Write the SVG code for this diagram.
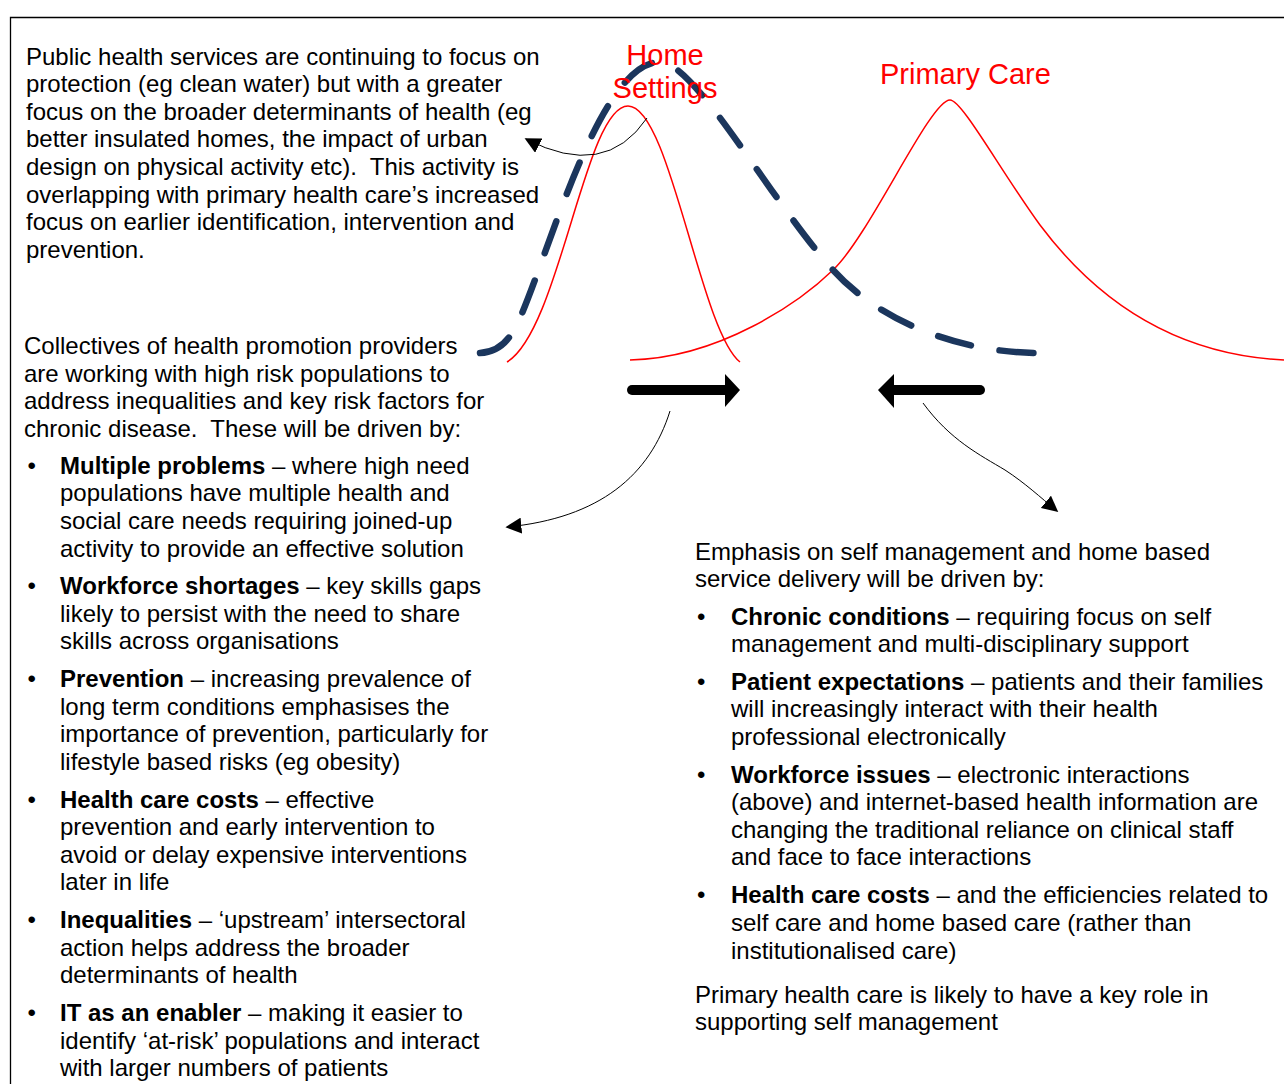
<svg xmlns="http://www.w3.org/2000/svg" width="1284" height="1084" viewBox="0 0 1284 1084">
<style>
text{font-family:"Liberation Sans",Arial,sans-serif;font-size:24px;fill:#000;white-space:pre}
.b{font-weight:bold}
.red{fill:#ff0000;font-size:29px}
.rc{fill:none;stroke:#ff0000;stroke-width:1.5}
.dash{fill:none;stroke:#1b365d;stroke-width:6.5;stroke-linecap:round;stroke-dasharray:34 29}
.thin{fill:none;stroke:#000;stroke-width:1}
.thick{fill:none;stroke:#000;stroke-width:10;stroke-linecap:round}
</style>
<defs>
<marker id="ah" viewBox="0 0 10 10" refX="9" refY="5" markerWidth="16" markerHeight="16" markerUnits="userSpaceOnUse" orient="auto">
<path d="M0,0 L10,5 L0,10 z" fill="#000"/>
</marker>
</defs>
<rect width="1284" height="1084" fill="#fff"/>
<path d="M10.5,1084 V17.5 H1284" fill="none" stroke="#000" stroke-width="1.3"/>

<g id="curves">
<path class="rc" d="M507,362 C560,330 585,106 628,106 C670,106 700,330 740,362"/>
<path class="rc" d="M630,360 C720,358 800,302 833,270 C870,235 930,100 950,100 C962,100 1000,170 1040,225 C1100,305 1180,355 1284,360"/>
<path class="dash" d="M480,353 C500,352 510,340 520,318 C550,250 600,62 660,62 C695,62 770,200 833,270 C880,322 960,353 1040,353"/>
</g>

<g id="label-home">
<text class="red" x="665" y="65" text-anchor="middle">Home</text>
<text class="red" x="665" y="98" text-anchor="middle">Settings</text>
</g>
<g id="label-primary">
<text class="red" x="880" y="84">Primary Care</text>
</g>

<g id="connectors">
<path class="thick" d="M632,390 H727"/>
<path d="M725,374 L740,390 L725,407 z" fill="#000"/>
<path class="thick" d="M980,390 H890"/>
<path d="M894,374 L878,390 L894,408 z" fill="#000"/>
<path class="thin" d="M647,118 Q605,180 526,139" marker-end="url(#ah)"/>
<path class="thin" d="M670,411 C650,475 600,518 507,527" marker-end="url(#ah)"/>
<path class="thin" d="M923,403 C950,440 980,455 1005,470 C1025,483 1040,497 1057,511" marker-end="url(#ah)"/>
</g>

<g id="public-health">
<text x="26" y="64.5">Public health services are continuing to focus on</text>
<text x="26" y="92.1">protection (eg clean water) but with a greater</text>
<text x="26" y="119.7">focus on the broader determinants of health (eg</text>
<text x="26" y="147.3">better insulated homes, the impact of urban</text>
<text x="26" y="174.9" xml:space="preserve">design on physical activity etc).  This activity is</text>
<text x="26" y="202.5">overlapping with primary health care’s increased</text>
<text x="26" y="230.1">focus on earlier identification, intervention and</text>
<text x="26" y="257.7">prevention.</text>
</g>

<g id="collectives">
<text x="24" y="354">Collectives of health promotion providers</text>
<text x="24" y="381.6">are working with high risk populations to</text>
<text x="24" y="409.2">address inequalities and key risk factors for</text>
<text x="24" y="436.8" xml:space="preserve">chronic disease.  These will be driven by:</text>

<text x="27.5" y="473.7">•</text>
<text x="60" y="473.7"><tspan class="b">Multiple problems</tspan> – where high need</text>
<text x="60" y="501.3">populations have multiple health and</text>
<text x="60" y="528.9">social care needs requiring joined-up</text>
<text x="60" y="556.5">activity to provide an effective solution</text>

<text x="27.5" y="594">•</text>
<text x="60" y="594"><tspan class="b">Workforce shortages</tspan> – key skills gaps</text>
<text x="60" y="621.6">likely to persist with the need to share</text>
<text x="60" y="649.2">skills across organisations</text>

<text x="27.5" y="687">•</text>
<text x="60" y="687"><tspan class="b">Prevention</tspan> – increasing prevalence of</text>
<text x="60" y="714.6">long term conditions emphasises the</text>
<text x="60" y="742.2">importance of prevention, particularly for</text>
<text x="60" y="769.8">lifestyle based risks (eg obesity)</text>

<text x="27.5" y="807.5">•</text>
<text x="60" y="807.5"><tspan class="b">Health care costs</tspan> – effective</text>
<text x="60" y="835.1">prevention and early intervention to</text>
<text x="60" y="862.7">avoid or delay expensive interventions</text>
<text x="60" y="890.3">later in life</text>

<text x="27.5" y="928">•</text>
<text x="60" y="928"><tspan class="b">Inequalities</tspan> – ‘upstream’ intersectoral</text>
<text x="60" y="955.6">action helps address the broader</text>
<text x="60" y="983.2">determinants of health</text>

<text x="27.5" y="1021">•</text>
<text x="60" y="1021"><tspan class="b">IT as an enabler</tspan> – making it easier to</text>
<text x="60" y="1048.6">identify ‘at-risk’ populations and interact</text>
<text x="60" y="1076.2">with larger numbers of patients</text>
</g>

<g id="self-management">
<text x="695" y="559.7">Emphasis on self management and home based</text>
<text x="695" y="587.3">service delivery will be driven by:</text>

<text x="697" y="624.7">•</text>
<text x="731" y="624.7"><tspan class="b">Chronic conditions</tspan> – requiring focus on self</text>
<text x="731" y="652.3">management and multi-disciplinary support</text>

<text x="697" y="689.7">•</text>
<text x="731" y="689.7"><tspan class="b">Patient expectations</tspan> – patients and their families</text>
<text x="731" y="717.3">will increasingly interact with their health</text>
<text x="731" y="744.9">professional electronically</text>

<text x="697" y="782.5">•</text>
<text x="731" y="782.5"><tspan class="b">Workforce issues</tspan> – electronic interactions</text>
<text x="731" y="810.1">(above) and internet-based health information are</text>
<text x="731" y="837.7">changing the traditional reliance on clinical staff</text>
<text x="731" y="865.3">and face to face interactions</text>

<text x="697" y="903.3">•</text>
<text x="731" y="903.3"><tspan class="b">Health care costs</tspan> – and the efficiencies related to</text>
<text x="731" y="930.9">self care and home based care (rather than</text>
<text x="731" y="958.5">institutionalised care)</text>

<text x="695" y="1002.7">Primary health care is likely to have a key role in</text>
<text x="695" y="1030.3">supporting self management</text>
</g>
</svg>
